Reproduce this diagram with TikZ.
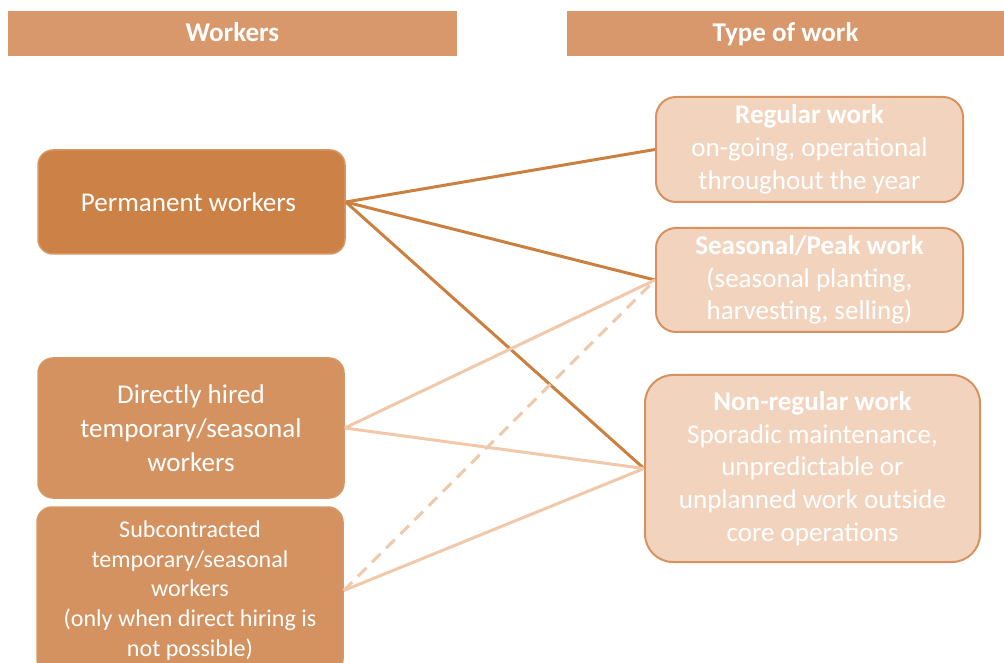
\documentclass[tikz,border=0pt]{standalone}
\usepackage{fontspec}
\setmainfont{Carlito}
\begin{document}
\begin{tikzpicture}[
    header/.style={fill=r216g152b108, text=white, font=\bfseries\fontsize{15.4}{19}\selectfont, inner sep=0pt, text height=1.00em, text depth=0.13em},
    leftbox/.style={rounded corners=0.3cm, draw=r216g150b100, line width=0.03cm, text=white, align=center, inner sep=0pt, font=\fontsize{15.4}{19.2}\selectfont},
    rightbox/.style={rounded corners=0.4cm, fill=r242g212b190, draw=r214g146b96, line width=0.04cm, text=white, align=center, inner sep=0pt, font=\fontsize{15.4}{18.6}\selectfont},
    darkline/.style={draw=r204g128b64, line width=0.06cm},
    lightline/.style={draw=r240g200b170, line width=0.06cm}]
                            \useasboundingbox (0,0) rectangle (20.080000,13.240000);
                            % \clip (0,0) rectangle (20.080000,13.240000);

                            % Changing color 216 152 108
                            \definecolor{r216g152b108}{rgb}{0.847059,0.596078,0.423529}%
                            \definecolor{r216g150b100}{rgb}{0.847059,0.588235,0.392157}%
                            \definecolor{r204g130b70}{rgb}{0.800000,0.509804,0.274510}%
                            \definecolor{r212g146b96}{rgb}{0.831373,0.572549,0.376471}%
                            \definecolor{r242g212b190}{rgb}{0.949020,0.831373,0.745098}%
                            \definecolor{r214g146b96}{rgb}{0.839216,0.572549,0.376471}%
                            \definecolor{r204g128b64}{rgb}{0.800000,0.501961,0.250980}%
                            \definecolor{r240g200b170}{rgb}{0.941176,0.784314,0.666667}%

                            % Marking headers
                            \node [header, minimum width=8.980000cm, minimum height=0.900000cm] (workers) at (4.650000,12.570000) { Workers };%
                            \node [header, minimum width=8.740000cm, minimum height=0.900000cm] (typeofwork) at (15.710000,12.570000) { Type of work };%

                            % Marking worker boxes
                            \node [leftbox, fill=r204g130b70, minimum width=6.140000cm, minimum height=2.080000cm] (permanent) at (3.830000,9.200000) { Permanent workers };%
                            \node [leftbox, fill=r212g146b96, minimum width=6.120000cm, minimum height=2.800000cm] (direct) at (3.820000,4.680000) { Directly hired\\ temporary/seasonal\\ workers };%
                            \node [leftbox, fill=r212g146b96, minimum width=6.120000cm, minimum height=3.340000cm, font=\fontsize{13.7}{16.9}\selectfont] (subcontracted) at (3.800000,1.430000) { Subcontracted\\ temporary/seasonal\\ workers\\ (only when direct hiring is\\ not possible) };%

                            % Marking work boxes
                            \node [rightbox, minimum width=6.140000cm, minimum height=2.100000cm] (regular) at (16.190000,10.250000) { \textbf{Regular work}\\ on-going, operational\\ throughout the year };%
                            \node [rightbox, minimum width=6.140000cm, minimum height=2.080000cm] (seasonal) at (16.190000,7.640000) { \textbf{Seasonal/Peak work}\\ (seasonal planting,\\ harvesting, selling) };%
                            \node [rightbox, rounded corners=0.56cm, minimum width=6.700000cm, minimum height=3.740000cm] (nonregular) at (16.250000,3.870000) { \textbf{Non-regular work}\\ Sporadic maintenance,\\ unpredictable or\\ unplanned work outside\\ core operations };%

                            % Drawing lines from permanent workers
                            \draw [darkline] (permanent.east) -- (regular.west);%
                            \draw [darkline] (permanent.east) -- (seasonal.west);%
                            \draw [darkline] (permanent.east) -- (nonregular.west);%

                            % Drawing lines from temporary workers
                            \draw [lightline] (direct.east) -- (seasonal.west);%
                            \draw [lightline] (direct.east) -- (nonregular.west);%
                            \draw [lightline] (subcontracted.east) -- (nonregular.west);%
                            \draw [lightline, dash pattern=on 0.240000cm off 0.160000cm] (subcontracted.east) -- (seasonal.west);%
\end{tikzpicture}
\end{document}
